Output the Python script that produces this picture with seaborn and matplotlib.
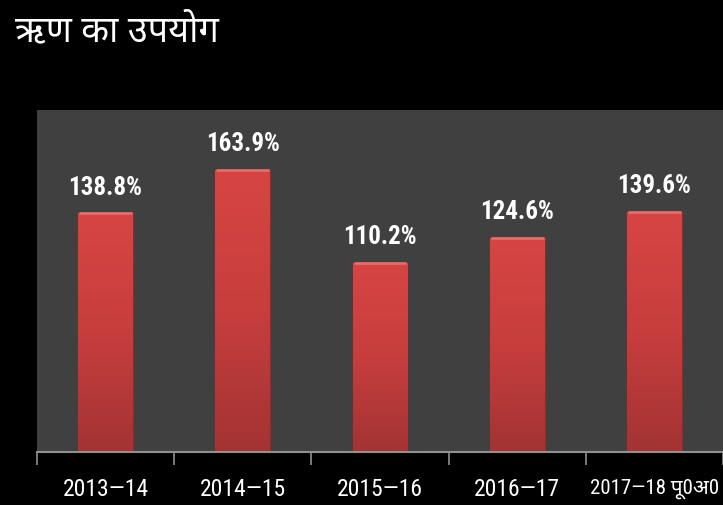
import numpy as np
import pandas as pd
import matplotlib
matplotlib.use("Agg")
import matplotlib.pyplot as plt
from matplotlib import font_manager
from matplotlib.ft2font import FT2Font
from matplotlib.colors import LinearSegmentedColormap
import seaborn as sns

# ---- data ----
categories = ["2013\u201414", "2014\u201415", "2015\u201416", "2016\u201417", "2017\u201418 पू0अ0"]
values = [138.8, 163.9, 110.2, 124.6, 139.6]
value_labels = ["138.8%", "163.9%", "110.2%", "124.6%", "139.6%"]
title = "ऋण का उपयोग"

# ---- fonts ----
def find_family(codepoint, prefer=()):
    found = []
    for f in font_manager.fontManager.ttflist:
        try:
            cm = FT2Font(f.fname).get_charmap()
        except Exception:
            continue
        if codepoint in cm:
            found.append(f.name)
    for p in prefer:
        if p in found:
            return p
    return found[0] if found else None

installed = {f.name for f in font_manager.fontManager.ttflist}
deva = find_family(0x090B, prefer=("Noto Sans Devanagari", "Lohit Devanagari", "FreeSans", "Mukta"))
narrow = "Roboto"
for cand in ("Roboto Condensed", "Liberation Sans Narrow", "Open Sans Condensed", "Arial Narrow"):
    if cand in installed:
        narrow = cand
        break

sns.set_theme(style="dark")
fam_title = [f for f in [deva, "DejaVu Sans"] if f]
fam_narrow = [f for f in [narrow, deva, "DejaVu Sans"] if f]
plt.rcParams['font.family'] = fam_narrow

df = pd.DataFrame({"year": categories, "value": values})

fig = plt.figure(figsize=(7.23, 5.05), dpi=100, facecolor="black")
ax = fig.add_axes([37 / 723, 1 - 452 / 505, (723 - 37) / 723, (452 - 110) / 505])
ax.set_facecolor("#404040")

sns.barplot(data=df, x="year", y="value", color="#c93c3c", width=0.4,
            saturation=1, ax=ax, edgecolor="#8e2a2a", linewidth=1.0)

ax.set_xlim(-0.5, 4.5)
ax.set_ylim(0, 199)

# gradient overlay on each bar
cmap = LinearSegmentedColormap.from_list("bar", ["#a33333", "#c73e3d", "#d64543"])
grad = np.linspace(0, 1, 256).reshape(-1, 1)
for p in ax.patches:
    x0, y0 = p.get_x(), p.get_y()
    w, h = p.get_width(), p.get_height()
    im = ax.imshow(grad, cmap=cmap, origin="lower", aspect="auto",
                   extent=(x0, x0 + w, y0, y0 + h), zorder=p.get_zorder() + 0.1)
    im.set_clip_path(p)
    # bevel highlight on top
    ax.plot([x0 + w * 0.02, x0 + w * 0.98], [y0 + h, y0 + h], color="#ec6a66", lw=2.0,
            zorder=p.get_zorder() + 0.2, solid_capstyle="butt")

for i, (v, lab) in enumerate(zip(values, value_labels)):
    ax.annotate(lab, (i, v), xytext=(0, 10), textcoords="offset points",
                ha="center", va="bottom", color="white", fontsize=18,
                fontweight="bold", family=fam_narrow)

ax.set_xlabel("")
ax.set_ylabel("")
ax.set_yticks([])
ax.set_xticks(range(len(categories)))
ax.set_xticklabels(categories, color="white", fontsize=17, family=fam_narrow)
ax.get_xticklabels()[-1].set_fontsize(15)
ax.tick_params(axis="x", which="major", length=0, pad=19)
ax.set_xticks(np.arange(-0.5, 4.6, 1), minor=True)
ax.tick_params(axis="x", which="minor", length=9, color="#909090", width=1.2, bottom=True)
ax.grid(False)
for s in ["top", "right", "left"]:
    ax.spines[s].set_visible(False)
ax.spines["bottom"].set_color("#909090")
ax.spines["bottom"].set_linewidth(1.5)

fig.text(15 / 723, 1 - 32 / 505, title, color="white", fontsize=26,
         ha="left", va="center", family=fam_title)

fig.savefig("out.png", dpi=100, facecolor="black")
